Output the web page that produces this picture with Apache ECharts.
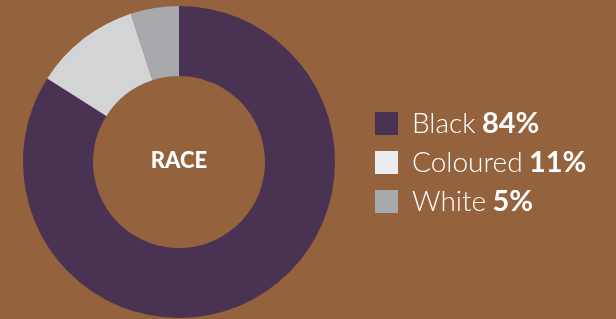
<!DOCTYPE html>
<html>
<head>
<meta charset="utf-8">
<script src="https://cdn.jsdelivr.net/npm/echarts@6/dist/echarts.min.js"></script>
<style>
  html, body { margin: 0; padding: 0; background: #95623e; }
  #chart { width: 616px; height: 319px; }
</style>
</head>
<body>
<div id="chart"></div>
<script>
// 数据
var categories = ['Black', 'Coloured', 'White'];
var values = [84, 11, 5];
var sliceColors = ['#4a3352', '#d3d4d6', '#a8a9ac'];
var legendColors = ['#4a3352', '#ececee', '#a8a9ac'];

var chart = echarts.init(document.getElementById('chart'), null, { renderer: 'canvas' });

var option = {
    backgroundColor: '#95623e',
    animation: false,
    graphic: [{
        type: 'text',
        x: 179,
        y: 161,
        style: {
            text: 'RACE',
            fill: '#ffffff',
            font: '900 22px Lato',
            align: 'center',
            verticalAlign: 'middle'
        }
    }],
    legend: {
        orient: 'vertical',
        left: 370,
        top: 104,
        itemWidth: 23,
        itemHeight: 23,
        itemGap: 10,
        icon: 'rect',
        selectedMode: false,
        data: categories.map(function (c, i) {
            return { name: c, itemStyle: { color: legendColors[i] } };
        }),
        formatter: function (name) {
            var i = categories.indexOf(name);
            return '{n|' + name + '} {v|' + values[i] + '%}';
        },
        textStyle: {
            padding: [0, 0, 0, 9],
            rich: {
                n: { fontFamily: 'Lato', fontWeight: 300, fontSize: 28, lineHeight: 27, color: '#ffffff' },
                v: { fontFamily: 'Lato', fontWeight: 'bold', fontSize: 29, lineHeight: 27, color: '#ffffff', padding: [0, 0, 0, 3] }
            }
        }
    },
    series: [{
        type: 'pie',
        center: [179, 162],
        radius: [86, 156],
        startAngle: 90,
        clockwise: true,
        label: { show: false },
        labelLine: { show: false },
        emphasis: { disabled: true },
        data: categories.map(function (c, i) {
            return { name: c, value: values[i], itemStyle: { color: sliceColors[i] } };
        })
    }]
};

chart.setOption(option);
</script>
</body>
</html>
